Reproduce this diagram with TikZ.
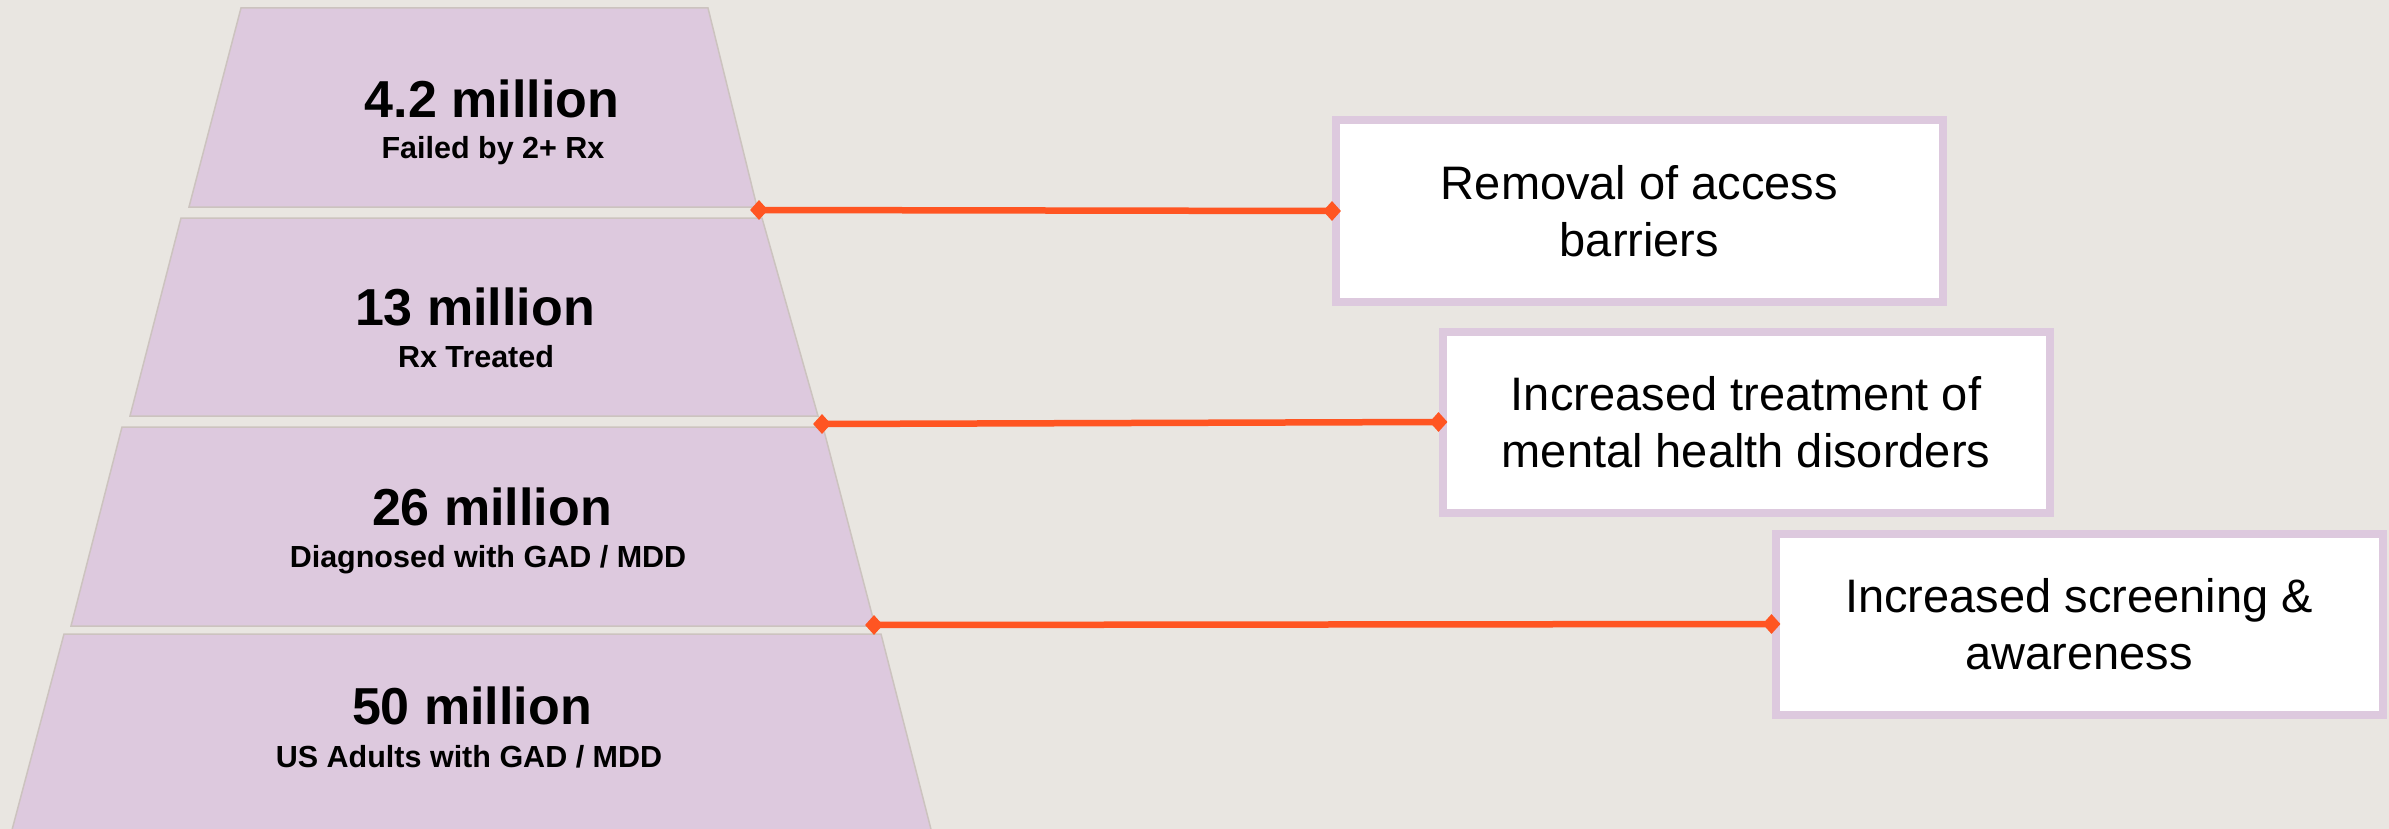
\documentclass[tikz,border=0pt]{standalone}
\usepackage{fontspec}
\setmainfont{Liberation Sans}
\usetikzlibrary{shapes.geometric}
\definecolor{bgc}{HTML}{E9E6E1}
\definecolor{lav}{HTML}{DDC9DE}
\definecolor{edgec}{HTML}{CCC3BF}
\definecolor{org}{HTML}{FF5522}
\begin{document}
\begin{tikzpicture}[x=1pt,y=-1pt,
  tier/.style={fill=lav,draw=edgec,line width=1.5pt},
  ttl/.style={anchor=base,font=\fontsize{52}{60}\selectfont\bfseries,inner sep=0},
  sub/.style={anchor=base,font=\fontsize{30.5}{36}\selectfont\bfseries,inner sep=0},
  box/.style={draw=lav,line width=8pt,fill=white,minimum width=607pt,minimum height=181pt,align=center,font=\fontsize{47}{57}\selectfont,inner sep=0},
  conn/.style={draw=org,line width=6.5pt},
  dmd/.style={diamond,fill=org,inner sep=0,minimum width=18pt,minimum height=20pt}]
\fill[bgc] (0,0) rectangle (2389,829);
\useasboundingbox (0,0) rectangle (2389,829);
\begin{scope}
\clip (0,0) rectangle (2389,829);
% tiers
\draw[tier] (241,8) -- (708,8) -- (757,207) -- (189,207) -- cycle;
\draw[tier] (181,218) -- (762,218) -- (818,416) -- (130,416) -- cycle;
\draw[tier] (122,427) -- (823,427) -- (875,626) -- (71,626) -- cycle;
\draw[tier] (64,634) -- (881,634) -- (935,845) -- (8,845) -- cycle;
\end{scope}
% tier texts
\node[ttl] (t1) at (492,118) {4.2 million};
\node[sub] (s1) at (493,159) {Failed by 2+ Rx};
\node[ttl] (t2) at (475,325) {13 million};
\node[sub] (s2) at (476,367) {Rx Treated};
\node[ttl] (t3) at (492,525) {26 million};
\node[sub] (s3) at (488,567) {Diagnosed with GAD / MDD};
\node[ttl] (t4) at (472,724) {50 million};
\node[sub] (s4) at (469,767) {US Adults with GAD / MDD};
% boxes
\node[box] (b1) at (1639.5,211) {Removal of access\\barriers};
\node[box] (b2) at (1746,422) {Increased treatment of\\mental health disorders};
\node[box] (b3) at (2079,624) {Increased screening \&\\awareness};
% connector start points
\coordinate (p1) at (759,210);
\coordinate (p2) at (822,424);
\coordinate (p3) at (874,625);
\draw[conn] (p1) -- (b1.west);
\draw[conn] (p2) -- (b2.west);
\draw[conn] (p3) -- (b3.west);
\node[dmd] (d1a) at (p1) {};
\node[dmd] (d1b) at (b1.west) {};
\node[dmd] (d2a) at (p2) {};
\node[dmd] (d2b) at (b2.west) {};
\node[dmd] (d3a) at (p3) {};
\node[dmd] (d3b) at (b3.west) {};
\end{tikzpicture}
\end{document}
